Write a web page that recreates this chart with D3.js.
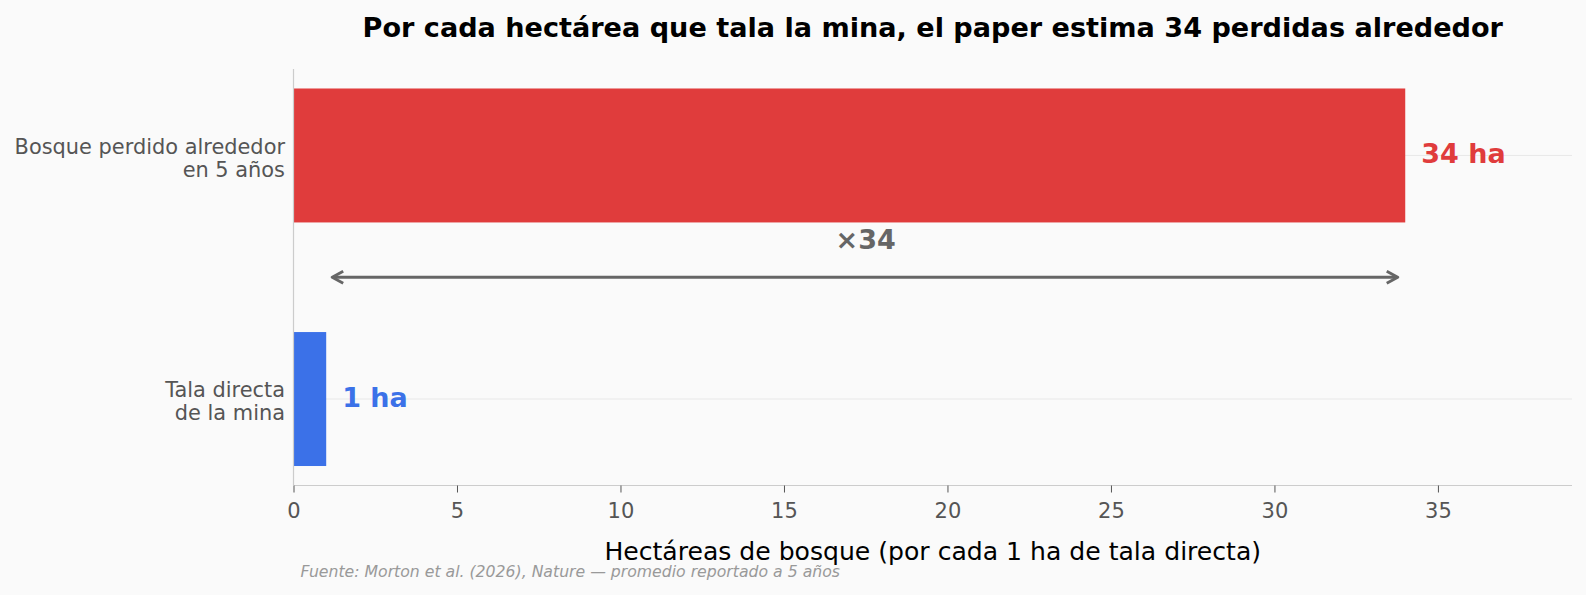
<!DOCTYPE html>
<html>
<head>
<meta charset="utf-8">
<script src="https://cdn.jsdelivr.net/npm/d3@7"></script>
<style>
  body { margin: 0; background: #fafafa; }
  svg { display: block; font-family: "DejaVu Sans", sans-serif; }
</style>
</head>
<body>
<div></div>
<script>
// data
const categories = ["Bosque perdido alrededor\nen 5 años", "Tala directa\nde la mina"]
const values = [34, 1]
const valueLabels = ["34 ha", "1 ha"]
const barColors = ["#e03c3c", "#3b71e8"]
const xTicks = [0, 5, 10, 15, 20, 25, 30, 35]
const ratioLabel = "×34"

const w = 1586
const h = 595
const padL = 293.5, padR = 1572, padT = 69, padB = 485.5

const svg = d3.select("div").append("svg")
    .attr("width", w)
    .attr("height", h)

svg.append("rect")
    .attr("width", w)
    .attr("height", h)
    .attr("fill", "#fafafa")

const x = d3.scaleLinear()
    .domain([0, 39.1])
    .range([padL, padR])

const y = d3.scaleBand()
    .domain(categories)
    .range([padT, padB])
    .paddingInner(0.45)
    .paddingOuter(0.08)

const mid = d => y(d) + y.bandwidth() / 2

// horizontal grid at each category
svg.selectAll("line.grid")
    .data(categories)
    .enter()
    .append("line")
    .attr("class", "grid")
    .attr("x1", padL)
    .attr("x2", padR)
    .attr("y1", d => mid(d))
    .attr("y2", d => mid(d))
    .attr("stroke", "#e8e8e8")
    .attr("stroke-width", 1)

// bars
svg.selectAll("rect.bar")
    .data(categories)
    .enter()
    .append("rect")
    .attr("class", "bar")
    .attr("x", x(0))
    .attr("y", d => y(d))
    .attr("width", (d, i) => x(values[i]) - x(0))
    .attr("height", y.bandwidth())
    .attr("fill", (d, i) => barColors[i])

// value labels
svg.selectAll("text.val")
    .data(categories)
    .enter()
    .append("text")
    .attr("class", "val")
    .attr("x", (d, i) => x(values[i]) + 16)
    .attr("y", d => mid(d) + 8)
    .attr("font-size", "27px")
    .attr("font-weight", "bold")
    .attr("fill", (d, i) => barColors[i])
    .text((d, i) => valueLabels[i])

// x axis
const xAxis = d3.axisBottom(x)
    .tickValues(xTicks)
    .tickSize(7)
    .tickPadding(11)
    .tickFormat(d3.format("d"))

const gx = svg.append("g")
    .attr("transform", `translate(0,${padB})`)
    .call(xAxis)
gx.select(".domain").attr("stroke", "#cccccc").attr("stroke-width", 1.2)
    .attr("d", `M${padL},0H${padR}`)
gx.selectAll(".tick line").attr("stroke", "#555")
gx.selectAll(".tick text")
    .attr("fill", "#555")
    .attr("font-size", "21px")
    .attr("font-family", "DejaVu Sans, sans-serif")

// left spine
svg.append("line")
    .attr("x1", padL).attr("x2", padL)
    .attr("y1", padT).attr("y2", padB)
    .attr("stroke", "#cccccc")
    .attr("stroke-width", 1.2)

// y labels (two lines each)
const yl = svg.selectAll("text.ylab")
    .data(categories)
    .enter()
    .append("text")
    .attr("class", "ylab")
    .attr("text-anchor", "end")
    .attr("fill", "#555")
    .attr("font-size", "20.9px")
yl.each(function (d) {
    const lines = d.split("\n")
    const t = d3.select(this)
    lines.forEach((ln, i) => {
        t.append("tspan")
            .attr("x", padL - 8.5)
            .attr("y", mid(d) + (i - (lines.length - 1) / 2) * 22.7 + 9.8)
            .text(ln)
    })
})

// double arrow between the two bars
const ay = (mid(categories[0]) + mid(categories[1])) / 2
const x1 = x(values[1]) + 6, x2 = x(values[0]) - 7.5
svg.append("line")
    .attr("x1", x1 + 1).attr("x2", x2 - 1)
    .attr("y1", ay).attr("y2", ay)
    .attr("stroke", "#666")
    .attr("stroke-width", 2.9)
svg.append("path")
    .attr("d", `M${x1 + 11},${ay - 6}L${x1},${ay}L${x1 + 11},${ay + 6}M${x2 - 11},${ay - 6}L${x2},${ay}L${x2 - 11},${ay + 6}`)
    .attr("fill", "none")
    .attr("stroke", "#666")
    .attr("stroke-width", 2.9)
    .attr("stroke-linejoin", "round")

svg.append("text")
    .attr("x", x((values[0] + values[1]) / 2))
    .attr("y", ay - 28)
    .attr("text-anchor", "middle")
    .attr("font-size", "27px")
    .attr("font-weight", "bold")
    .attr("fill", "#666")
    .text(ratioLabel)

// title, axis label, source
svg.append("text")
    .attr("x", (padL + padR) / 2)
    .attr("y", 37)
    .attr("text-anchor", "middle")
    .attr("font-size", "27.1px")
    .attr("font-weight", "bold")
    .attr("fill", "#000")
    .text("Por cada hectárea que tala la mina, el paper estima 34 perdidas alrededor")

svg.append("text")
    .attr("x", (padL + padR) / 2)
    .attr("y", 559.5)
    .attr("text-anchor", "middle")
    .attr("font-size", "25.1px")
    .attr("fill", "#000")
    .text("Hectáreas de bosque (por cada 1 ha de tala directa)")

svg.append("text")
    .attr("x", 300.5)
    .attr("y", 577)
    .attr("font-size", "15.7px")
    .attr("font-style", "italic")
    .attr("fill", "#999")
    .text("Fuente: Morton et al. (2026), Nature — promedio reportado a 5 años")
</script>
</body>
</html>
